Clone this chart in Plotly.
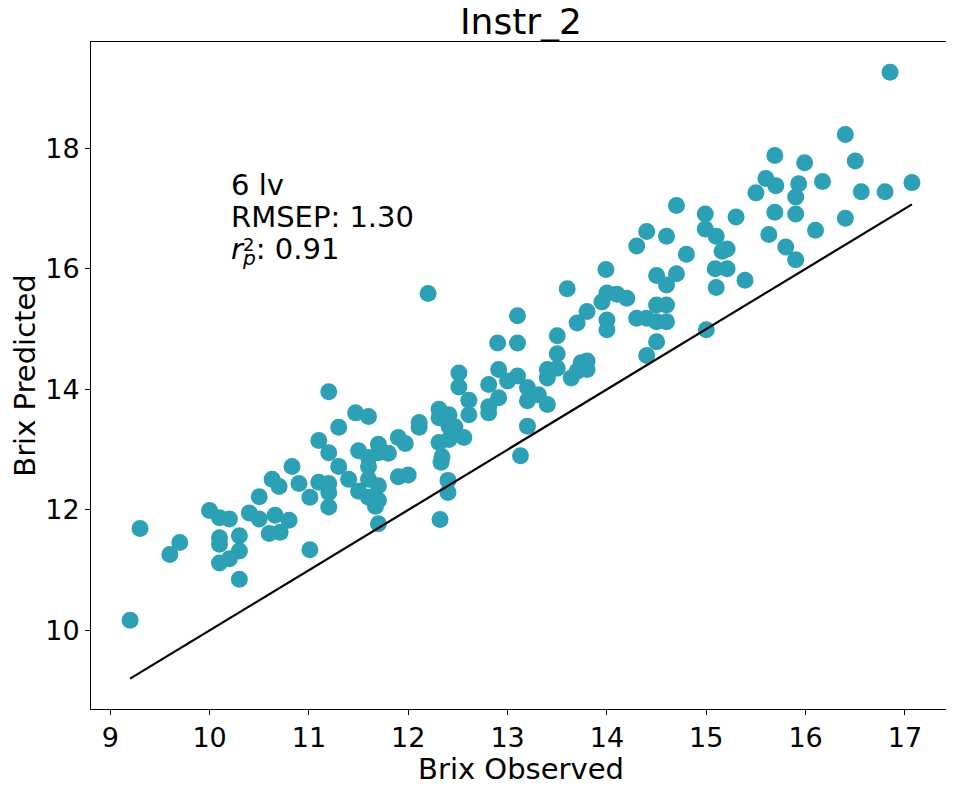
import plotly.graph_objects as go

# observed / predicted Brix
brix_observed = [
    9.20, 9.30, 9.60, 9.70, 10.00, 10.10, 10.20, 10.10, 10.10, 10.30,
    10.30, 10.10, 10.20, 10.30, 10.40, 10.50, 10.50, 10.66, 10.80, 10.60,
    10.71, 10.63, 10.70, 10.90, 11.01, 11.01,
    11.20, 11.47, 11.60, 11.30, 11.10, 11.20, 10.83, 11.10, 11.20, 11.20,
    11.20, 11.30, 11.40, 11.50, 11.50, 11.60, 11.60, 11.70, 11.70, 11.80,
    11.60, 11.70, 11.60, 11.70, 11.67, 11.70, 11.90, 11.97, 11.90, 12.00,
    12.11, 12.11, 12.31, 12.31, 12.41, 12.31, 12.34, 12.33, 12.41, 12.47,
    12.41, 12.56, 12.51, 12.51, 12.61, 12.61, 12.81, 12.81, 12.81, 12.91,
    12.91, 12.40, 12.40, 12.32,
    12.20, 13.60, 13.10, 12.90, 13.10, 13.50, 13.70, 13.80, 13.95, 14.00,
    14.00, 13.50, 13.40, 13.50, 13.40, 13.64, 13.74, 13.80, 13.80, 13.70,
    13.00, 13.10, 13.20, 13.20, 13.31, 13.40, 13.20, 13.13,
    14.70, 14.40, 14.30, 14.60, 14.80, 14.99, 14.99, 15.10, 15.30, 15.50,
    15.60, 15.69, 15.69, 15.63, 15.16, 15.21, 15.09, 15.21, 15.39, 15.10,
    15.00, 13.99, 14.50, 14.70, 14.60, 14.00, 14.10, 14.20, 14.30, 14.40,
    14.50, 14.60, 14.50, 14.60, 14.50, 14.40,
    16.85, 16.40, 16.50, 15.99, 15.70, 15.93, 16.17, 15.90, 16.56, 16.80,
    17.07, 15.90, 16.40, 16.10, 15.80, 15.90,
]
brix_predicted = [
    10.17, 11.69, 11.26, 11.46, 11.99, 11.87, 11.85, 11.54, 11.43, 11.57,
    11.32, 11.12, 11.19, 10.85, 11.95, 11.85, 12.22, 11.91, 11.83, 11.61,
    11.63, 12.51, 12.39, 12.44, 12.21, 11.34,
    13.96, 13.61, 13.55, 13.37, 13.15, 12.95, 12.72, 12.46, 12.44, 12.29,
    12.05, 12.72, 12.51, 12.98, 12.31, 12.87, 12.72, 13.09, 12.95, 12.94,
    12.51, 12.40, 12.21, 12.16, 12.06, 11.77, 13.20, 13.10, 12.55, 12.58,
    13.45, 13.37, 13.67, 13.53, 13.58, 13.12, 12.88, 12.79, 13.39, 13.38,
    13.17, 13.20, 14.27, 14.04, 13.82, 13.58, 14.08, 13.71, 13.61, 13.86,
    14.33, 12.49, 12.29, 11.84,
    15.59, 15.67, 15.22, 14.77, 14.77, 14.89, 15.10, 15.29, 15.45, 15.15,
    14.99, 14.59, 14.33, 14.35, 14.19, 14.19, 14.44, 14.47, 14.33, 14.30,
    14.14, 14.22, 14.03, 13.81, 13.91, 13.75, 13.39, 12.90,
    17.05, 16.62, 16.38, 16.54, 16.24, 16.91, 16.66, 16.54, 16.86, 17.26,
    17.50, 17.88, 16.94, 16.57, 16.29, 16.33, 16.00, 16.00, 15.81, 15.69,
    14.99, 15.99, 15.89, 15.92, 15.73, 15.60, 15.58, 15.51, 15.18, 15.18,
    15.40, 15.40, 15.12, 15.12, 14.79, 14.56,
    19.26, 18.23, 17.79, 17.76, 17.38, 17.41, 17.45, 17.19, 17.28, 17.28,
    17.43, 16.91, 16.84, 16.64, 16.36, 16.15,
]

n_lv = 6
rmsep = 1.30
r2_p = 0.91

FONT = "DejaVu Sans"
DOT = "#2ca0b4"

# 1:1 reference line over the observed range
line_x = [min(brix_observed), max(brix_observed)]

# matplotlib-style 5% padding
def padded(lo, hi):
    span = hi - lo
    return [lo - 0.05 * span, hi + 0.05 * span]

x_range = padded(min(brix_observed), max(brix_observed))
y_range = padded(min(min(brix_predicted), line_x[0]), max(max(brix_predicted), line_x[1]))

fig = go.Figure()
fig.add_trace(go.Scatter(
    x=brix_observed, y=brix_predicted, mode="markers",
    marker=dict(size=17, color=DOT, line=dict(width=0)),
    showlegend=False,
))
fig.add_trace(go.Scatter(
    x=line_x, y=line_x, mode="lines",
    line=dict(color="black", width=2.2),
    showlegend=False,
))

ann_x = 10.2
notes = [
    (f"{n_lv} lv", 17.07),
    (f"RMSEP: {rmsep:.2f}", 16.55),
    (f"<i>r</i><sub><i>p</i></sub>: {r2_p:.2f}", 15.94),
]
for txt, yy in notes:
    fig.add_annotation(x=ann_x, y=yy, xref="x", yref="y", text=txt,
                       showarrow=False, xanchor="left", yanchor="bottom",
                       font=dict(family=FONT, size=29, color="black"))
# superscript 2 stacked over the p subscript
fig.add_annotation(x=ann_x, y=15.94, xref="x", yref="y", text="2",
                   showarrow=False, xanchor="left", yanchor="bottom",
                   xshift=12, yshift=15,
                   font=dict(family=FONT, size=18, color="black"))

axis_style = dict(
    showline=True, linecolor="black", linewidth=1, mirror=True,
    ticks="outside", ticklen=5, tickwidth=1, tickcolor="black",
    showgrid=False, zeroline=False,
    tickfont=dict(family=FONT, size=27, color="black"),
)

fig.update_xaxes(range=x_range, dtick=1, tick0=9,
                 title=dict(text="Brix Observed", standoff=10,
                            font=dict(family=FONT, size=29, color="black")),
                 **axis_style)
fig.update_yaxes(range=y_range, dtick=2, tick0=10,
                 title=dict(text="Brix Predicted", standoff=12,
                            font=dict(family=FONT, size=29, color="black")),
                 **axis_style)

# page body adds an 8px offset, so the figure is sized to fit the window
fig.update_layout(
    width=946, height=778,
    margin=dict(l=83, r=2, t=34, b=72),
    paper_bgcolor="white", plot_bgcolor="white",
    title=dict(text="Instr_2", x=0.5, xref="paper", y=1 - 13 / 778, yref="container",
               yanchor="middle", font=dict(family=FONT, size=36, color="black")),
)

fig.write_html("out.html")
